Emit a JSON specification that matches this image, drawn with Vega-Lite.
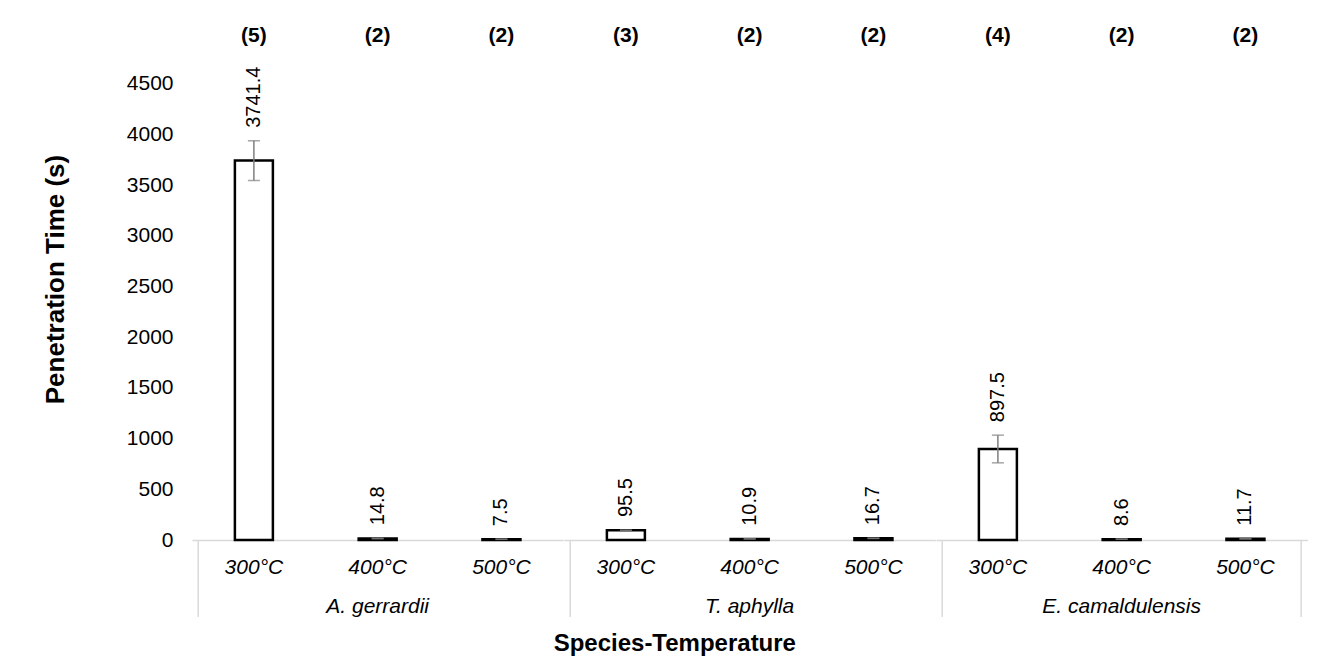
{
  "$schema": "https://vega.github.io/schema/vega-lite/v6.json",
  "background": "white",
  "padding": {"left": 42, "top": 25, "right": 10, "bottom": 10},
  "config": {
    "font": "Liberation Sans",
    "view": {"stroke": null},
    "axis": {"grid": false},
    "text": {"font": "Liberation Sans"}
  },
  "title": {
    "text": "Species-Temperature",
    "orient": "bottom",
    "anchor": "middle",
    "frame": "bounds",
    "fontSize": 24,
    "fontWeight": "bold",
    "color": "black",
    "offset": 14,
    "dx": 0
  },
  "data": {
    "values": [
      {"species": "A. gerrardii", "temp": "300°C", "mean": 3741.4, "lo": 3545, "hi": 3937, "n": "(5)"},
      {"species": "A. gerrardii", "temp": "400°C", "mean": 14.8, "lo": 12, "hi": 17.5, "n": "(2)"},
      {"species": "A. gerrardii", "temp": "500°C", "mean": 7.5, "lo": 6.5, "hi": 8.5, "n": "(2)"},
      {"species": "T. aphylla", "temp": "300°C", "mean": 95.5, "lo": 93, "hi": 98, "n": "(3)"},
      {"species": "T. aphylla", "temp": "400°C", "mean": 10.9, "lo": 10, "hi": 11.8, "n": "(2)"},
      {"species": "T. aphylla", "temp": "500°C", "mean": 16.7, "lo": 15, "hi": 18.4, "n": "(2)"},
      {"species": "E. camaldulensis", "temp": "300°C", "mean": 897.5, "lo": 761, "hi": 1034, "n": "(4)"},
      {"species": "E. camaldulensis", "temp": "400°C", "mean": 8.6, "lo": 8, "hi": 9.2, "n": "(2)"},
      {"species": "E. camaldulensis", "temp": "500°C", "mean": 11.7, "lo": 11, "hi": 12.4, "n": "(2)"}
    ]
  },
  "bounds": "flush",
  "spacing": 0,
  "facet": {
    "column": {
      "field": "species",
      "type": "nominal",
      "sort": ["A. gerrardii", "T. aphylla", "E. camaldulensis"],
      "title": null,
      "header": {
        "labelOrient": "bottom",
        "labelFontStyle": "italic",
        "labelFontSize": 21,
        "labelColor": "black",
        "labelPadding": 19
      }
    }
  },
  "spec": {
    "width": 371.33,
    "height": 507,
    "encoding": {
      "x": {
        "field": "temp",
        "type": "nominal",
        "sort": ["300°C", "400°C", "500°C"],
        "title": null,
        "axis": {
          "labelAngle": 0,
          "labelFontSize": 21,
          "labelFontStyle": "italic",
          "labelColor": "black",
          "ticks": false,
          "domainColor": "#d9d9d9",
          "domainWidth": 1.5,
          "labelPadding": 16
        }
      }
    },
    "layer": [
      {
        "mark": {"type": "bar", "fill": "white", "stroke": "black", "strokeWidth": 2.5, "width": 38},
        "encoding": {
          "y": {
            "field": "mean",
            "type": "quantitative",
            "scale": {"domain": [0, 5000], "nice": false},
            "axis": {
              "values": [0, 500, 1000, 1500, 2000, 2500, 3000, 3500, 4000, 4500],
              "format": "d",
              "title": "Penetration Time (s)",
              "titleFontSize": 26,
              "titleFontWeight": "bold",
              "titleColor": "black",
              "titlePadding": 58,
              "titleY": 246,
              "labelFontSize": 21,
              "labelColor": "black",
              "labelPadding": 19,
              "ticks": false,
              "domain": false,
              "grid": false
            }
          }
        }
      },
      {
        "mark": {"type": "rule", "color": "#7f7f7f", "strokeWidth": 1.5},
        "encoding": {
          "y": {"field": "lo", "type": "quantitative"},
          "y2": {"field": "hi"}
        }
      },
      {
        "mark": {"type": "tick", "color": "#7f7f7f", "thickness": 1.5, "size": 12},
        "encoding": {"y": {"field": "hi", "type": "quantitative"}}
      },
      {
        "mark": {"type": "tick", "color": "#7f7f7f", "thickness": 1.5, "size": 12},
        "encoding": {"y": {"field": "lo", "type": "quantitative"}}
      },
      {
        "mark": {"type": "text", "angle": 270, "align": "left", "baseline": "middle", "fontSize": 20, "color": "black", "yOffset": -13},
        "encoding": {
          "y": {"field": "hi", "type": "quantitative"},
          "text": {"field": "mean", "type": "quantitative", "format": ".1f"}
        }
      },
      {
        "mark": {"type": "text", "baseline": "middle", "fontSize": 21, "fontWeight": "bold", "color": "black", "dy": 3},
        "encoding": {
          "y": {"datum": 5000, "type": "quantitative"},
          "text": {"field": "n", "type": "nominal"}
        }
      },
      {
        "transform": [{"filter": "datum.temp === '300°C'"}],
        "mark": {"type": "rule", "color": "#d9d9d9", "strokeWidth": 1.5},
        "encoding": {
          "x": {"field": "temp", "type": "nominal", "sort": ["300°C", "400°C", "500°C"], "bandPosition": 0},
          "y": {"datum": 0, "type": "quantitative"},
          "y2": {"datum": -760}
        }
      },
      {
        "transform": [{"filter": "datum.species === 'E. camaldulensis' && datum.temp === '500°C'"}],
        "mark": {"type": "rule", "color": "#d9d9d9", "strokeWidth": 1.5},
        "encoding": {
          "x": {"field": "temp", "type": "nominal", "sort": ["300°C", "400°C", "500°C"], "bandPosition": 1},
          "y": {"datum": 0, "type": "quantitative"},
          "y2": {"datum": -760}
        }
      }
    ]
  }
}
